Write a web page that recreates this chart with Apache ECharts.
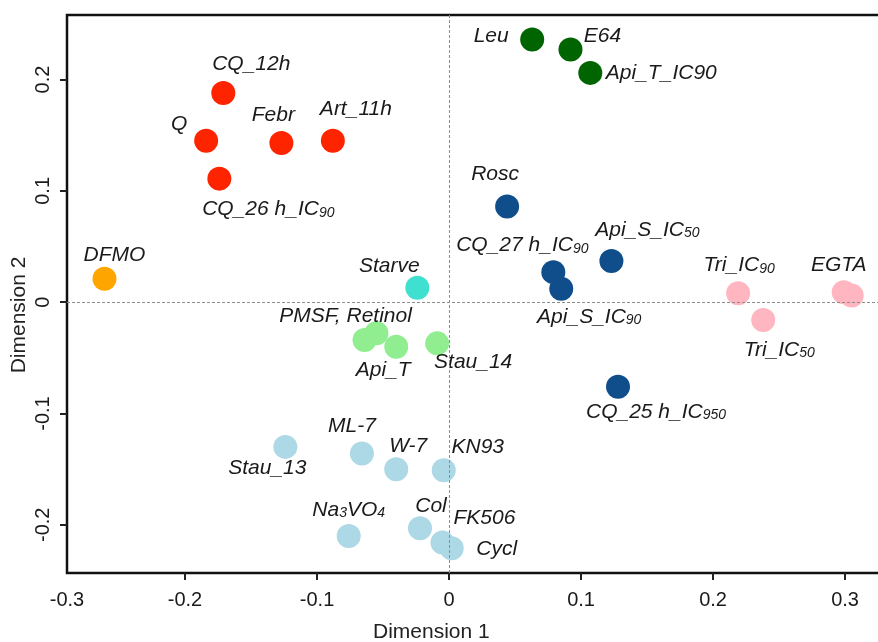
<!DOCTYPE html>
<html>
<head>
<meta charset="utf-8">
<script src="https://cdn.jsdelivr.net/npm/echarts@6/dist/echarts.min.js"></script>
<style>
html,body{margin:0;padding:0;background:#fff;}
#chart{width:878px;height:642px;}
</style>
</head>
<body>
<div id="chart"></div>
<script>
// ---- data ----
const names = ['CQ_12h','Q','Febr','CQ_26h_IC90','Art_11h','DFMO','Leu','E64','Api_T_IC90','Rosc',
  'CQ_27h_IC90','Api_S_IC90','Api_S_IC50','CQ_25h_IC950','Starve','Tri_IC90','EGTA','EGTA_b','Tri_IC50',
  'PMSF','Retinol','Api_T','Stau_14','Stau_13','ML-7','W-7','KN93','Na3VO4','Col','FK506','Cycl'];
const labels = ['CQ_12h','Q','Febr','CQ_26 h_IC{s|90}','Art_11h','DFMO','Leu','E64','Api_T_IC90','Rosc',
  'CQ_27 h_IC{s|90}','Api_S_IC{s|90}','Api_S_IC{s|50}','CQ_25 h_IC{s|950}','Starve','Tri_IC{s|90}','EGTA','','Tri_IC{s|50}',
  'PMSF, Retinol','','Api_T','Stau_14','Stau_13','ML-7','W-7','KN93','Na{s|3}VO{s|4}','Col','FK506','Cycl'];
const dim1 = [-0.171,-0.184,-0.127,-0.174,-0.088,-0.261,0.063,0.092,0.107,0.044,
  0.079,0.085,0.123,0.128,-0.024,0.219,0.299,0.305,0.238,
  -0.064,-0.055,-0.040,-0.009,-0.124,-0.066,-0.040,-0.004,-0.076,-0.022,-0.005,0.002];
const dim2 = [0.188,0.145,0.143,0.111,0.145,0.021,0.236,0.227,0.206,0.086,
  0.027,0.012,0.037,-0.076,0.013,0.008,0.009,0.006,-0.016,
  -0.034,-0.028,-0.040,-0.037,-0.130,-0.136,-0.150,-0.151,-0.210,-0.203,-0.216,-0.221];
const groups = ['red','red','red','red','red','orange','dkgreen','dkgreen','dkgreen','navy',
  'navy','navy','navy','navy','turq','pink','pink','pink','pink',
  'ltgreen','ltgreen','ltgreen','ltgreen','ltblue','ltblue','ltblue','ltblue','ltblue','ltblue','ltblue','ltblue'];
const xTicks = [-0.2,-0.1,0,0.1,0.2,0.3];
const yTicks = [-0.2,-0.1,0,0.1,0.2];
const xRange = [-0.2894, 0.3401];
const yRange = [-0.2433, 0.258];

// ---- styling / layout ----
const groupOrder = ['red','orange','dkgreen','navy','turq','pink','ltgreen','ltblue'];
const groupColor = {red:'#FF2400',orange:'#FFA500',dkgreen:'#006400',navy:'#104E8B',
  turq:'#40E0D0',pink:'#FFB6C1',ltgreen:'#90EE90',ltblue:'#ADD8E6'};
const labelOffset = {
  'CQ_12h':[28,-29],'Q':[-27,-17],'Febr':[-8,-28],'CQ_26h_IC90':[49,31],'Art_11h':[23,-32],
  'DFMO':[10,-24],'Leu':[-41,-3],'E64':[32,-13],'Api_T_IC90':[71,0],'Rosc':[-12,-32],
  'CQ_27h_IC90':[-31,-27],'Api_S_IC90':[28,28],'Api_S_IC50':[36,-31],'CQ_25h_IC950':[38,25],
  'Starve':[-28,-22],'Tri_IC90':[1,-28],'EGTA':[-5,-27],'EGTA_b':[0,0],'Tri_IC50':[16,30],
  'PMSF':[-19,-24],'Retinol':[0,0],'Api_T':[-13,23],'Stau_14':[36,19],'Stau_13':[-18,21],
  'ML-7':[-10,-27],'W-7':[12,-23],'KN93':[34,-23],'Na3VO4':[0,-26],'Col':[11,-22],
  'FK506':[42,-24],'Cycl':[45,1]
};
const FONT = '"Liberation Sans", Arial, sans-serif';

const series = groupOrder.map(function (g) {
  const data = [];
  names.forEach(function (n, i) {
    if (groups[i] !== g) return;
    data.push({
      name: n,
      value: [dim1[i], dim2[i]],
      label: {
        show: labels[i] !== '',
        formatter: labels[i],
        offset: labelOffset[n]
      }
    });
  });
  return {
    type: 'scatter',
    symbol: 'circle',
    symbolSize: 24,
    itemStyle: {color: groupColor[g], opacity: 1},
    label: {
      position: 'inside',
      align: 'center',
      verticalAlign: 'middle',
      color: '#1a1a1a',
      fontFamily: FONT,
      fontStyle: 'italic',
      fontSize: 21,
      lineHeight: 21,
      rich: {
        s: {fontSize: 14, fontStyle: 'italic', fontFamily: FONT, color: '#1a1a1a',
            verticalAlign: 'bottom', lineHeight: 13}
      }
    },
    emphasis: {disabled: true},
    data: data
  };
});

series.unshift({
  type: 'scatter',
  data: [],
  silent: true,
  markLine: {
    silent: true,
    symbol: 'none',
    animation: false,
    label: {show: false},
    lineStyle: {color: '#8c8c8c', width: 1, type: [3, 2]},
    data: [{xAxis: 0}, {yAxis: 0}]
  }
});

function fmt(v) { return String(Number(v.toFixed(1))); }

const chart = echarts.init(document.getElementById('chart'), null, {renderer: 'canvas'});
chart.setOption({
  animation: false,
  backgroundColor: '#ffffff',
  grid: {left: 67, top: 15, width: 831, height: 558, show: true, containLabel: false,
         outerBoundsMode: 'none',
         borderColor: '#111', borderWidth: 2.5, backgroundColor: 'transparent'},
  xAxis: {
    type: 'value', min: xRange[0], max: xRange[1],
    splitLine: {show: false},
    axisLine: {show: false, onZero: false},
    axisTick: {show: true, length: 7, lineStyle: {color: '#222', width: 2}, customValues: xTicks},
    axisLabel: {show: true, margin: 17, fontSize: 20, fontFamily: FONT, color: '#1a1a1a',
      customValues: [xRange[0]].concat(xTicks), formatter: fmt, showMinLabel: true, showMaxLabel: true}
  },
  yAxis: {
    type: 'value', min: yRange[0], max: yRange[1],
    splitLine: {show: false},
    axisLine: {show: false, onZero: false},
    axisTick: {show: true, length: 7, lineStyle: {color: '#222', width: 2}, customValues: yTicks},
    axisLabel: {show: true, margin: 14, rotate: 90, fontSize: 20, fontFamily: FONT, color: '#1a1a1a',
      customValues: yTicks, formatter: fmt}
  },
  graphic: [
    {type: 'text', left: 373, top: 622, style: {text: 'Dimension 1', fontSize: 21, fontFamily: FONT, fill: '#222'}},
    {type: 'text', x: 19, y: 315, rotation: Math.PI / 2,
     style: {text: 'Dimension 2', fontSize: 21, fontFamily: FONT, fill: '#222', align: 'center', verticalAlign: 'middle'},
     originX: 0, originY: 0}
  ],
  series: series
});
</script>
</body>
</html>
